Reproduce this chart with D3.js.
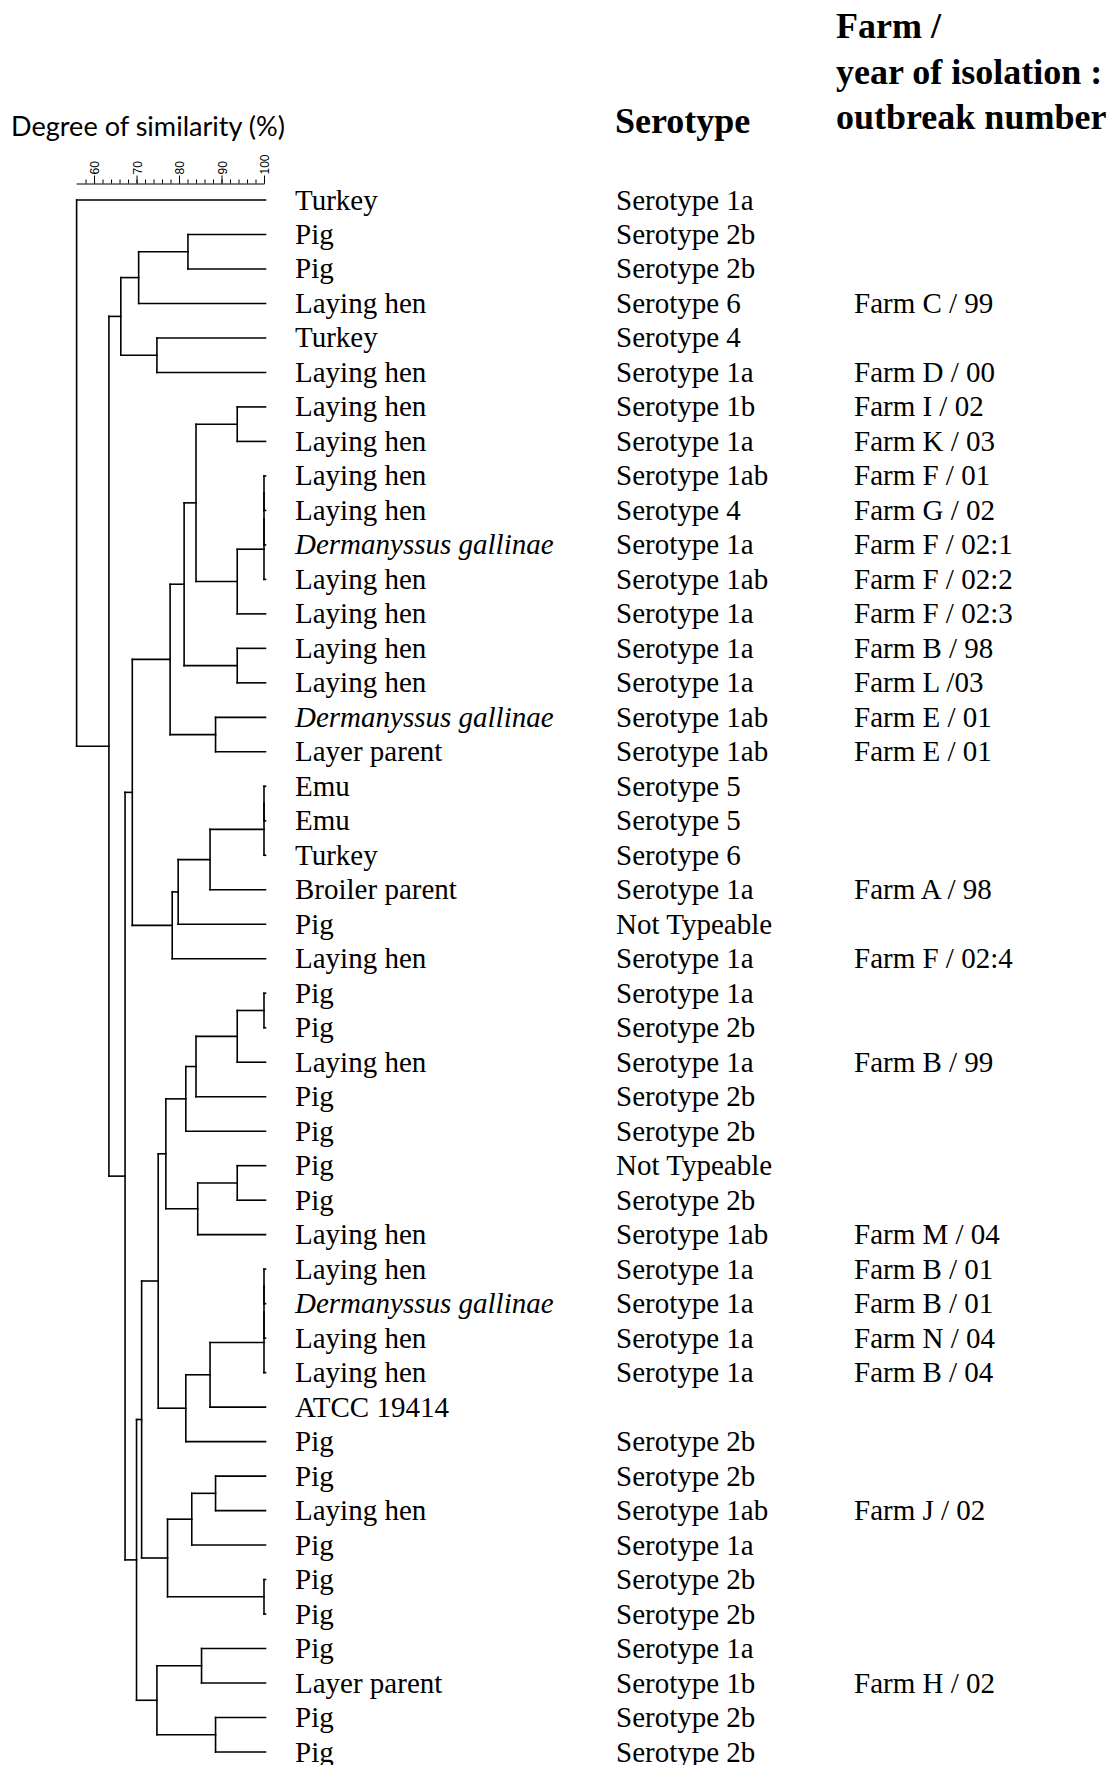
<!DOCTYPE html>
<html>
<head>
<meta charset="utf-8">
<script src="https://cdn.jsdelivr.net/npm/d3@7"></script>
<style>
  html, body { margin: 0; padding: 0; background: #fff; }
  svg { display: block; }
  .lab { font-family: "Liberation Serif", "Times New Roman", serif; font-size: 29px; fill: #000; }
  .head { font-family: "Liberation Serif", "Times New Roman", serif; font-size: 36px; font-weight: bold; fill: #000; }
</style>
</head>
<body>
<div id="chart"></div>
<script>
// leaf labels, top to bottom
const hosts = [
  "Turkey", "Pig", "Pig", "Laying hen", "Turkey", "Laying hen", "Laying hen", "Laying hen",
  "Laying hen", "Laying hen", "Dermanyssus gallinae", "Laying hen", "Laying hen", "Laying hen",
  "Laying hen", "Dermanyssus gallinae", "Layer parent", "Emu", "Emu", "Turkey", "Broiler parent",
  "Pig", "Laying hen", "Pig", "Pig", "Laying hen", "Pig", "Pig", "Pig", "Pig", "Laying hen",
  "Laying hen", "Dermanyssus gallinae", "Laying hen", "Laying hen", "ATCC 19414", "Pig", "Pig",
  "Laying hen", "Pig", "Pig", "Pig", "Pig", "Layer parent", "Pig", "Pig"
];
const serotypes = [
  "Serotype 1a", "Serotype 2b", "Serotype 2b", "Serotype 6", "Serotype 4", "Serotype 1a",
  "Serotype 1b", "Serotype 1a", "Serotype 1ab", "Serotype 4", "Serotype 1a", "Serotype 1ab",
  "Serotype 1a", "Serotype 1a", "Serotype 1a", "Serotype 1ab", "Serotype 1ab", "Serotype 5",
  "Serotype 5", "Serotype 6", "Serotype 1a", "Not Typeable", "Serotype 1a", "Serotype 1a",
  "Serotype 2b", "Serotype 1a", "Serotype 2b", "Serotype 2b", "Not Typeable", "Serotype 2b",
  "Serotype 1ab", "Serotype 1a", "Serotype 1a", "Serotype 1a", "Serotype 1a", "",
  "Serotype 2b", "Serotype 2b", "Serotype 1ab", "Serotype 1a", "Serotype 2b", "Serotype 2b",
  "Serotype 1a", "Serotype 1b", "Serotype 2b", "Serotype 2b"
];
const farms = [
  "", "", "", "Farm C / 99", "", "Farm D / 00", "Farm I / 02", "Farm K / 03", "Farm F / 01",
  "Farm G / 02", "Farm F / 02:1", "Farm F / 02:2", "Farm F / 02:3", "Farm B / 98", "Farm L /03",
  "Farm E / 01", "Farm E / 01", "", "", "", "Farm A / 98", "", "Farm F / 02:4", "", "",
  "Farm B / 99", "", "", "", "", "Farm M / 04", "Farm B / 01", "Farm B / 01", "Farm N / 04",
  "Farm B / 04", "", "", "", "Farm J / 02", "", "", "", "", "Farm H / 02", "", ""
];

// linkage: [left, right, similarity %]; ids >= 46 refer to earlier merges (46 + row)
const linkage = [
  [1, 2, 82.1], [46, 3, 70.5], [4, 5, 74.8], [47, 48, 66.3],
  [6, 7, 93.7], [8, 9, 100], [51, 10, 100], [52, 11, 100], [53, 12, 93.7],
  [50, 54, 84.0], [13, 14, 93.7], [55, 56, 81.2], [15, 16, 88.6], [57, 58, 77.9],
  [17, 18, 100], [60, 19, 100], [61, 20, 87.3], [62, 21, 79.8], [63, 22, 78.4],
  [59, 64, 69.0],
  [23, 24, 100], [66, 25, 93.7], [67, 26, 84.0], [68, 27, 81.6], [28, 29, 93.7],
  [70, 30, 84.4], [69, 71, 76.9], [31, 32, 100], [73, 33, 100], [74, 34, 100],
  [75, 35, 87.3], [76, 36, 81.6], [72, 77, 75.1], [37, 38, 88.6], [79, 39, 83.0],
  [40, 41, 100], [80, 81, 77.3], [78, 82, 71.2], [42, 43, 85.3], [44, 45, 88.6],
  [84, 85, 74.8], [83, 86, 70.0], [65, 87, 67.3], [49, 88, 63.5], [0, 89, 55.9]
];

const majorTicks = [60, 70, 80, 90, 100];
const minorTicks = d3.range(58, 101, 2);

const W = 1118, H = 1765;
const nLeaves = hosts.length;

const x = d3.scaleLinear().domain([55.8, 100]).range([76.2, 264]);
const y = d3.scaleLinear().domain([0, nLeaves - 1]).range([200, 1752]);

function buildNode(id) {
  if (id < nLeaves) return { leaf: id };
  const m = linkage[id - nLeaves];
  return { sim: m[2], children: [buildNode(m[0]), buildNode(m[1])] };
}

const root = d3.hierarchy(buildNode(nLeaves + linkage.length - 1));
root.eachAfter(d => {
  if (d.children) {
    d.px = x(d.data.sim);
    d.py = (d.children[0].py + d.children[d.children.length - 1].py) / 2;
  } else {
    d.px = x(100) + 1.5;
    d.py = y(d.data.leaf);
  }
});

const svg = d3.select("#chart").append("svg")
  .attr("width", W).attr("height", H)
  .attr("viewBox", `0 0 ${W} ${H}`);

// similarity axis
const axisG = svg.append("g").attr("transform", "translate(0,183.5)");
axisG.append("g")
  .call(d3.axisTop(x).tickValues(minorTicks).tickSize(4).tickSizeOuter(0).tickFormat(""))
  .call(g => g.selectAll("line").attr("stroke", "#000").attr("stroke-width", 1))
  .call(g => g.select(".domain").attr("stroke", "#000").attr("stroke-width", 1.2));
axisG.append("g")
  .call(d3.axisTop(x).tickValues(majorTicks).tickSize(8).tickSizeOuter(0))
  .call(g => g.select(".domain").remove())
  .call(g => g.selectAll("line").attr("stroke", "#000").attr("stroke-width", 1))
  .call(g => g.selectAll("text")
    .attr("x", 0).attr("y", 0)
    .attr("dy", "0.4em")
    .attr("transform", "translate(0,-9) rotate(-90)")
    .attr("text-anchor", "start")
    .attr("font-family", "'Liberation Sans', Arial, sans-serif")
    .attr("font-size", 12)
    .attr("fill", "#000"));

svg.append("text")
  .attr("x", 11).attr("y", 136)
  .attr("font-family", "Lato, 'Open Sans', sans-serif")
  .attr("font-size", 26)
  .attr("textLength", 274)
  .attr("lengthAdjust", "spacingAndGlyphs")
  .text("Degree of similarity (%)");

// tree links (elbow)
const internal = root.descendants().filter(d => d.children);
const segs = [];
internal.forEach(d => {
  segs.push([d.px, d.children[0].py, d.px, d.children[d.children.length - 1].py]);
  d.children.forEach(c => segs.push([d.px, c.py, c.px, c.py]));
});
svg.append("g")
  .attr("stroke", "#000")
  .attr("stroke-width", 1.6)
  .attr("stroke-linecap", "square")
  .selectAll("line")
  .data(segs)
  .join("line")
  .attr("x1", s => s[0]).attr("y1", s => s[1])
  .attr("x2", s => s[2]).attr("y2", s => s[3]);

// columns
const rows = d3.range(nLeaves);
const baseOff = 9.5;
svg.append("g").selectAll("text")
  .data(rows)
  .join("text")
  .attr("class", "lab")
  .attr("x", 295)
  .attr("y", i => y(i) + baseOff)
  .attr("font-style", i => hosts[i] === "Dermanyssus gallinae" ? "italic" : "normal")
  .text(i => hosts[i]);

svg.append("g").selectAll("text")
  .data(rows)
  .join("text")
  .attr("class", "lab")
  .attr("x", 616)
  .attr("y", i => y(i) + baseOff)
  .text(i => serotypes[i]);

svg.append("g").selectAll("text")
  .data(rows)
  .join("text")
  .attr("class", "lab")
  .attr("x", 854)
  .attr("y", i => y(i) + baseOff)
  .text(i => farms[i]);

// headers
svg.append("text").attr("class", "head").attr("x", 615).attr("y", 133).text("Serotype");
const farmHead = ["Farm /", "year of isolation :", "outbreak number"];
svg.append("g").selectAll("text")
  .data(farmHead)
  .join("text")
  .attr("class", "head")
  .attr("x", 836)
  .attr("y", (t, i) => 38 + i * 45.5)
  .text(t => t);
</script>
</body>
</html>
